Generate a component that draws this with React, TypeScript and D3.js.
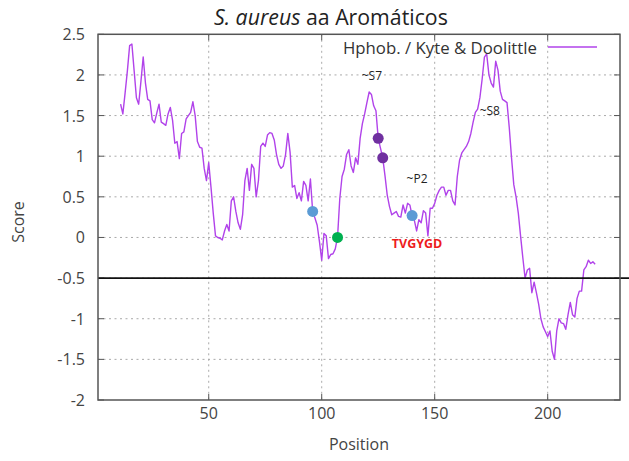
import React from "react";
import * as d3 from "d3";

// Kyte & Doolittle hydrophobicity profile, one score per residue starting at position 11
const firstPosition = 11;
const scores = [
  1.64, 1.52, 1.78, 2.05, 2.36, 2.38, 2.05, 1.72, 1.64, 1.92, // 11-20
  2.22, 1.90, 1.70, 1.68, 1.45, 1.41, 1.53, 1.64, 1.42, 1.40, // 21-30
  1.38, 1.52, 1.60, 1.44, 1.16, 1.18, 0.97, 1.28, 1.30, 1.46, // 31-40
  1.50, 1.54, 1.67, 1.50, 1.18, 1.11, 1.10, 0.85, 0.70, 0.92, // 41-50
  0.62, 0.30, 0.02, 0.00, -0.01, -0.03, 0.08, 0.16, 0.08, 0.45, // 51-60
  0.50, 0.32, 0.18, 0.10, 0.28, 0.70, 0.85, 0.58, 0.90, 0.85, // 61-70
  0.50, 0.70, 1.12, 1.16, 1.12, 1.26, 1.29, 1.28, 1.20, 1.02, // 71-80
  0.90, 0.85, 0.88, 1.02, 1.28, 1.05, 0.62, 0.64, 0.48, 0.55, // 81-90
  0.45, 0.69, 0.64, 0.45, 0.72, 0.32, 0.24, 0.15, -0.05, -0.28, // 91-100
  0.05, 0.02, -0.26, -0.21, -0.20, -0.14, 0.00, 0.48, 0.75, 0.84, // 101-110
  1.02, 1.08, 0.88, 0.80, 0.98, 0.90, 1.22, 1.40, 1.52, 1.66, // 111-120
  1.79, 1.76, 1.62, 1.56, 1.22, 1.10, 0.98, 0.76, 0.52, 0.38, // 121-130
  0.28, 0.30, 0.32, 0.26, 0.25, 0.40, 0.30, 0.42, 0.40, 0.27, // 131-140
  0.21, 0.08, 0.22, 0.18, 0.33, 0.30, 0.02, 0.36, 0.36, 0.42, // 141-150
  0.52, 0.58, 0.62, 0.62, 0.52, 0.58, 0.58, 0.45, 0.40, 0.75, // 151-160
  0.95, 1.04, 1.08, 1.12, 1.18, 1.28, 1.42, 1.54, 1.58, 1.72, // 161-170
  1.95, 2.22, 2.26, 2.00, 1.90, 1.85, 2.17, 2.06, 1.80, 1.70, // 171-180
  1.68, 1.66, 1.35, 0.98, 0.65, 0.50, 0.30, 0.02, -0.25, -0.50, // 181-190
  -0.40, -0.38, -0.68, -0.55, -0.68, -0.82, -1.00, -1.10, -1.16, -1.22, // 191-200
  -1.15, -1.40, -1.50, -1.15, -1.00, -1.05, -1.06, -1.13, -0.95, -0.80, // 201-210
  -0.95, -0.98, -0.75, -0.66, -0.66, -0.40, -0.36, -0.28, -0.32, -0.30, // 211-220
  -0.33, // 221
];

const xTicks = [50, 100, 150, 200];
const yTicks = [-2, -1.5, -1, -0.5, 0, 0.5, 1, 1.5, 2, 2.5];
const thresholdScore = -0.5;

// highlighted residues
const markerPositions = [96, 107, 125, 127, 140];
const markerColors = ["#5b9bd5", "#00b050", "#7030a0", "#7030a0", "#5b9bd5"];

// region annotations (text, position, score)
const noteTexts = ["~S7", "~P2", "~S8"];
const notePositions = [122.2, 142.2, 174.4];
const noteScores = [1.99, 0.73, 1.56];
const motifText = "TVGYGD";
const motifPosition = 142.2;
const motifScore = -0.07;

const W = 629;
const H = 461;
const frame = { left: 98, right: 620, top: 34.3, bottom: 400 };
const font = "'Open Sans', 'Noto Sans', sans-serif";
const lineColor = "#b143ea";

export default function App() {
  const x = d3.scaleLinear().domain([1, 232]).range([frame.left, frame.right]);
  const y = d3.scaleLinear().domain([-2, 2.5]).range([frame.bottom, frame.top]);

  const points: [number, number][] = scores.map((s, i) => [firstPosition + i, s]);
  const line = d3
    .line<[number, number]>()
    .x((d) => x(d[0]))
    .y((d) => y(d[1]));

  const scoreAt = (p: number) => scores[p - firstPosition];
  const tickLen = 6;

  return (
    <svg
      width={W}
      height={H}
      style={{ position: "absolute", left: 0, top: 0, background: "#fff" }}
      fontFamily={font}
    >
      <rect width={W} height={H} fill="#fff" />

      {/* grid */}
      {yTicks
        .filter((t) => t > -2 && t < 2.5)
        .map((t) => (
          <line
            key={"gy" + t}
            x1={frame.left}
            x2={frame.right}
            y1={y(t)}
            y2={y(t)}
            stroke="#aaaaaa"
            strokeWidth={1}
            strokeDasharray="2,3.5"
          />
        ))}
      {xTicks.map((t) => (
        <line
          key={"gx" + t}
          x1={x(t)}
          x2={x(t)}
          y1={frame.top}
          y2={frame.bottom}
          stroke="#aaaaaa"
          strokeWidth={1}
          strokeDasharray="2,3.5"
        />
      ))}

      {/* tick marks, mirrored on all sides */}
      {yTicks.map((t) => (
        <g key={"ty" + t} stroke="#555" strokeWidth={1}>
          <line x1={frame.left} x2={frame.left + tickLen} y1={y(t)} y2={y(t)} />
          <line x1={frame.right} x2={frame.right - tickLen} y1={y(t)} y2={y(t)} />
        </g>
      ))}
      {xTicks.map((t) => (
        <g key={"tx" + t} stroke="#555" strokeWidth={1}>
          <line x1={x(t)} x2={x(t)} y1={frame.bottom} y2={frame.bottom - tickLen} />
          <line x1={x(t)} x2={x(t)} y1={frame.top} y2={frame.top + tickLen} />
        </g>
      ))}

      {/* profile */}
      <path d={line(points) ?? ""} fill="none" stroke={lineColor} strokeWidth={1.4} strokeLinejoin="round" />

      {/* threshold */}
      <line
        x1={frame.left}
        x2={W}
        y1={y(thresholdScore)}
        y2={y(thresholdScore)}
        stroke="#111"
        strokeWidth={1.6}
      />

      {/* frame */}
      <rect
        x={frame.left}
        y={frame.top}
        width={frame.right - frame.left}
        height={frame.bottom - frame.top}
        fill="none"
        stroke="#555"
        strokeWidth={1.5}
      />

      {/* highlighted residues */}
      {markerPositions.map((p, i) => (
        <circle key={"m" + i} cx={x(p)} cy={y(scoreAt(p))} r={5.5} fill={markerColors[i]} />
      ))}

      {/* annotations */}
      {noteTexts.map((t, i) => (
        <text
          key={"n" + i}
          x={x(notePositions[i])}
          y={y(noteScores[i])}
          textAnchor="middle"
          dominantBaseline="central"
          fontSize={12}
          fill="#222"
        >
          {t}
        </text>
      ))}
      <text
        x={x(motifPosition)}
        y={y(motifScore)}
        textAnchor="middle"
        dominantBaseline="central"
        fontSize={12.5}
        fontWeight="bold"
        fill="#ee1c1c"
      >
        {motifText}
      </text>

      {/* axis labels */}
      {yTicks.map((t) => (
        <text
          key={"ly" + t}
          x={85}
          y={y(t)}
          textAnchor="end"
          dominantBaseline="central"
          fontSize={16}
          fill="#444"
        >
          {t}
        </text>
      ))}
      {xTicks.map((t) => (
        <text key={"lx" + t} x={x(t)} y={419} textAnchor="middle" fontSize={16} fill="#444">
          {t}
        </text>
      ))}
      <text x={359} y={450} textAnchor="middle" fontSize={16} fill="#444">
        Position
      </text>
      <text
        transform={`translate(24, 222) rotate(-90)`}
        textAnchor="middle"
        fontSize={16}
        fill="#444"
      >
        Score
      </text>

      {/* title */}
      <text x={214} y={25} fontSize={21.3} fill="#222">
        <tspan fontStyle="italic">S. aureus</tspan> aa Aromáticos
      </text>

      {/* legend */}
      <text x={537} y={47} textAnchor="end" dominantBaseline="central" fontSize={16.8} fill="#333">
        Hphob. / Kyte &amp; Doolittle
      </text>
      <line x1={548} x2={597} y1={47} y2={47} stroke={lineColor} strokeWidth={1.4} />
    </svg>
  );
}
